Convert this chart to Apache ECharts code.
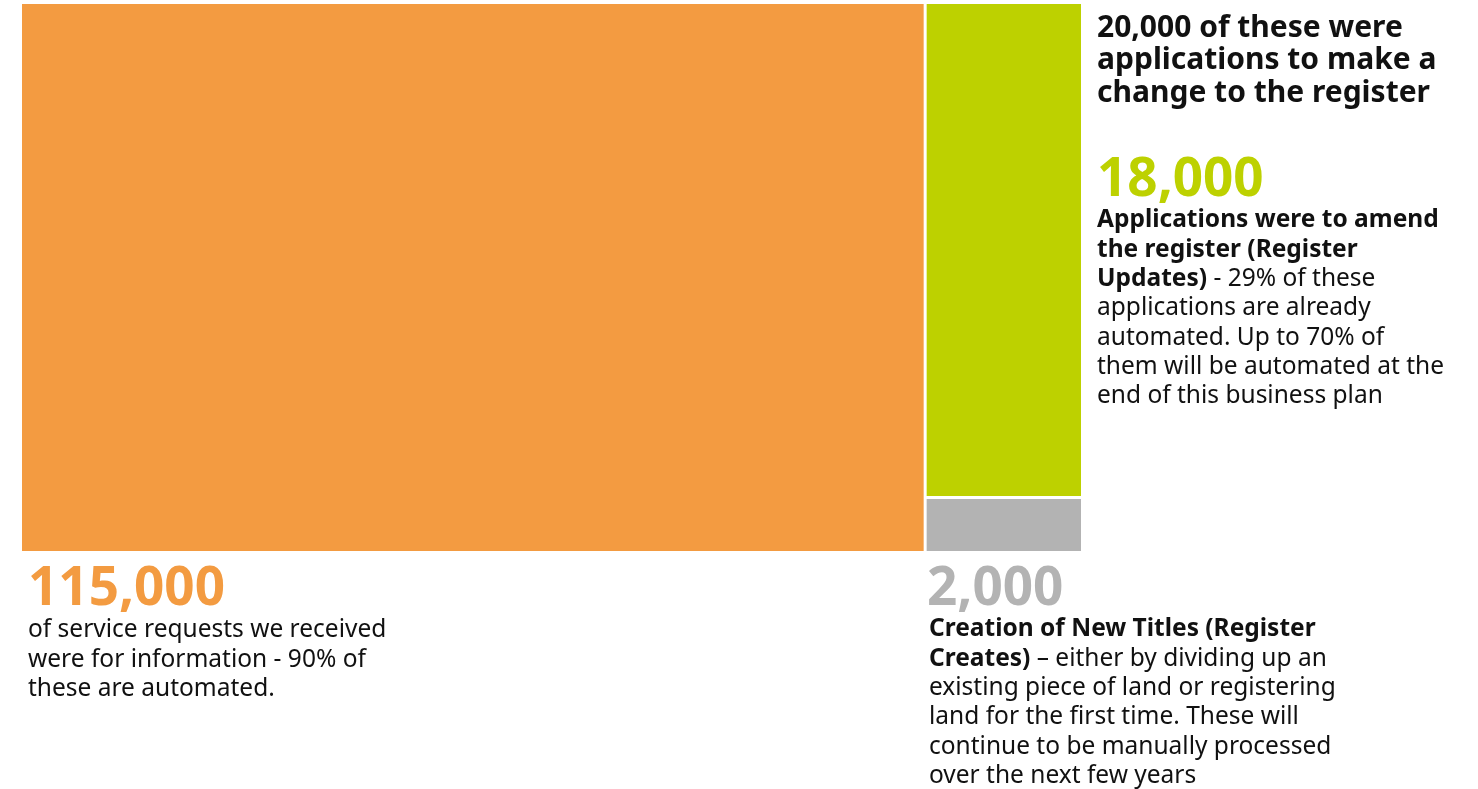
<!DOCTYPE html>
<html>
<head>
<meta charset="utf-8">
<script src="https://cdn.jsdelivr.net/npm/echarts@6/dist/echarts.min.js"></script>
<style>
  html, body { margin: 0; padding: 0; background: #ffffff; }
  #chart { width: 1478px; height: 789px; }
</style>
</head>
<body>
<div id="chart"></div>
<script>
// Service requests broken down by type
const categories = ['Information requests', 'Register Updates', 'Register Creates'];
const groupName = 'Applications to change the register';
const values = [115000, 18000, 2000];
const colors = ['#f39b41', '#bdd100', '#b3b3b3'];

// Descriptive copy for each block
const headingLines = ['of these were', 'applications to make a', 'change to the register'];
const infoLines = [
  'of service requests we received',
  'were for information - 90% of',
  'these are automated.'
];
const updateLines = [
  [['b', 'Applications were to amend']],
  [['b', 'the register (Register']],
  [['b', 'Updates)'], ['r', ' - 29% of these']],
  [['r', 'applications are already']],
  [['r', 'automated. Up to 70% of']],
  [['r', 'them will be automated at the']],
  [['r', 'end of this business plan']]
];
const createLines = [
  [['b', 'Creation of New Titles (Register']],
  [['b', 'Creates)'], ['r', ' \u2013 either by dividing up an']],
  [['r', 'existing piece of land or registering']],
  [['r', 'land for the first time. These will']],
  [['r', 'continue to be manually processed']],
  [['r', 'over the next few years']]
];

const FONT = '"Noto Sans", "Open Sans", sans-serif';
const fmt = v => v.toLocaleString('en-GB');
const groupTotal = values[1] + values[2];

function richBlock(lines) {
  return lines.map(parts => parts.map(([k, t]) => '{' + k + '|' + t + '}').join('')).join('\n');
}

const bodyRich = (lh) => ({
  b: { fontFamily: FONT, fontSize: 24.5, fontWeight: 'bold', fill: '#111', lineHeight: lh },
  r: { fontFamily: FONT, fontSize: 24.5, fontWeight: 'normal', fill: '#111', lineHeight: lh }
});

const numStyle = (color) => ({
  fontFamily: FONT, fontSize: 53, fontWeight: 'bold', fill: color
});

const chart = echarts.init(document.getElementById('chart'), null, { renderer: 'canvas' });

chart.setOption({
  backgroundColor: '#ffffff',
  animation: false,
  tooltip: { show: false },
  series: [{
    type: 'treemap',
    left: 22, top: 4, width: 1059, height: 547,
    roam: false,
    nodeClick: false,
    silent: true,
    breadcrumb: { show: false },
    label: { show: false },
    upperLabel: { show: false },
    emphasis: { disabled: true },
    levels: [
      { itemStyle: { borderWidth: 0, gapWidth: 3, borderColor: '#ffffff' } },
      { itemStyle: { borderWidth: 0, gapWidth: 3, borderColor: '#ffffff' } },
      { itemStyle: { borderWidth: 0 } }
    ],
    data: [
      { name: categories[0], value: values[0], itemStyle: { color: colors[0] } },
      {
        name: groupName,
        itemStyle: { borderColor: '#ffffff' },
        children: [
          { name: categories[1], value: values[1], itemStyle: { color: colors[1] } },
          { name: categories[2], value: values[2], itemStyle: { color: colors[2] } }
        ]
      }
    ]
  }],
  graphic: [
    // Heading beside the applications block
    {
      type: 'text', left: 1097, top: 12,
      style: {
        text: [fmt(groupTotal) + ' ' + headingLines[0], headingLines[1], headingLines[2]].join('\n'),
        fontFamily: FONT, fontSize: 30, fontWeight: 'bold', fill: '#111', lineHeight: 32.5
      }
    },
    // Register updates
    { type: 'text', left: 1097, top: 154, style: Object.assign({ text: fmt(values[1]) }, numStyle(colors[1])) },
    {
      type: 'text', left: 1097, top: 208,
      style: { text: richBlock(updateLines), rich: bodyRich(29.3) }
    },
    // Information requests
    { type: 'text', left: 28, top: 563, style: Object.assign({ text: fmt(values[0]) }, numStyle(colors[0])) },
    {
      type: 'text', left: 28, top: 618,
      style: { text: richBlock(infoLines.map(t => [['r', t]])), rich: bodyRich(29.5) }
    },
    // Register creates
    { type: 'text', left: 927, top: 563, style: Object.assign({ text: fmt(values[2]) }, numStyle(colors[2])) },
    {
      type: 'text', left: 929, top: 617,
      style: { text: richBlock(createLines), rich: bodyRich(29.3) }
    }
  ]
});
</script>
</body>
</html>
